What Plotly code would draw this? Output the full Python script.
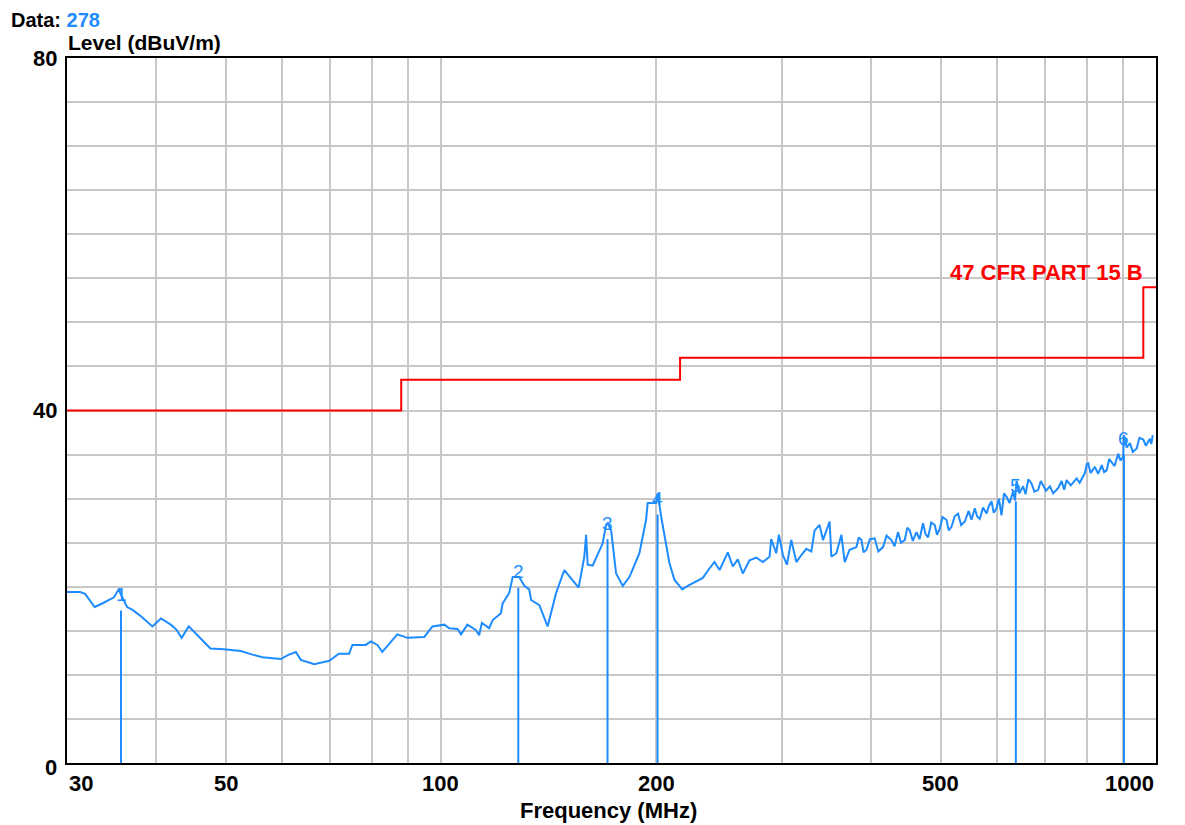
import math
import plotly.graph_objects as go

# ---------------- data ----------------
freq_mhz = [30.0, 31.3, 31.8, 32.8, 33.6, 34.9, 35.5, 35.6, 36.4, 37.0, 38.0, 39.5, 40.6, 41.9, 42.6,
            43.4, 44.4, 45.4, 46.4, 47.6, 49.7, 52.5, 54.5, 56.3, 59.7, 61.3, 62.7, 63.7, 66.5, 69.8,
            72.0, 74.4, 75.2, 78.5, 79.8, 81.5, 82.8, 85.1, 86.9, 89.8, 94.8, 97.3, 101.1, 102.7, 105.5,
            106.7, 108.9, 111.9, 113.1, 114.1, 116.8, 118.1, 121.3, 122.0, 124.6, 126.0, 128.7, 130.8,
            132.9, 133.7, 137.3, 141.0, 144.9, 148.8, 152.1, 155.8, 158.7, 159.6, 160.4, 163.0, 168.3,
            170.2, 171.1, 173.0, 175.8, 179.6, 183.5, 189.5, 193.6, 194.6, 200.0, 201.0, 203.2, 205.4,
            208.7, 212.1, 215.6, 217.5, 221.4, 227.5, 232.4, 237.5, 241.3, 245.3, 251.9, 256.0, 260.1,
            264.4, 270.1, 276.1, 282.0, 288.1, 289.7, 294.4, 296.9, 300.8, 304.7, 309.0, 314.1, 319.2,
            324.3, 329.6, 333.1, 338.5, 342.2, 349.6, 351.6, 357.3, 363.1, 367.0, 372.9,
            381.1, 384.0, 387.3, 390.0, 393.6, 398.0, 404.2, 409.0, 415.2, 420.0, 426.6, 431.0, 435.7,
            440.0, 445.3, 449.0, 452.5, 457.0, 462.4, 467.0, 472.3, 476.0, 480.0, 485.0, 490.5, 494.0,
            498.4, 503.0, 509.3, 513.0, 517.6, 523.0, 528.7, 534.0, 540.3, 547.0, 552.0, 558.0, 562.0,
            567.0, 573.0, 579.4, 584.0, 588.8, 593.0, 598.4, 603.0, 608.1, 613.0, 618.0, 624.0, 631.3,
            635.0, 638.3, 644.0, 651.9, 657.0, 663.0, 669.9, 676.0, 684.3, 690.0, 695.4, 702.0, 710.6,
            718.0, 729.8, 738.0, 744.0, 749.9, 760.0, 774.5, 782.0, 795.4, 800.0, 803.9, 810.0, 821.5,
            830.0, 839.5, 846.0, 853.1, 860.0, 866.0, 875.0, 885.5, 892.0, 899.9, 902.0, 910.0, 919.6,
            928.0, 939.7, 948.0, 959.9, 968.0, 980.5, 985.0, 989.5]
level_dbuv = [19.4, 19.4, 19.2, 17.7, 18.1, 18.8, 19.8, 19.3, 17.7, 17.4, 16.7, 15.5, 16.4, 15.7, 15.2,
              14.2, 15.5, 14.7, 14.0, 13.0, 12.9, 12.7, 12.3, 12.0, 11.8, 12.3, 12.6, 11.7, 11.2, 11.6,
              12.4, 12.4, 13.4, 13.4, 13.8, 13.4, 12.6, 13.8, 14.6, 14.2, 14.3, 15.5, 15.7, 15.3, 15.2,
              14.6, 15.7, 15.1, 14.5, 15.9, 15.3, 16.2, 17.0, 18.1, 19.3, 21.1, 21.1, 20.1,
              19.7, 18.5, 17.9, 15.5, 19.3, 21.9, 20.9, 19.9, 23.4, 25.9, 22.5, 22.4, 24.9,
              27.0, 27.2, 26.4, 21.5, 20.1, 21.1, 23.8, 27.6, 29.5, 29.5, 30.6, 28.0, 25.9,
              22.7, 20.8, 20.1, 19.7, 20.1, 20.6, 21.0, 22.1, 22.8, 21.9, 23.9, 22.3, 23.1,
              21.5, 23.0, 23.3, 22.8, 23.4, 25.4, 23.8, 25.9, 23.6, 22.5, 25.3, 22.8, 23.6,
              24.3, 24.0, 26.4, 27.0, 25.3, 27.4, 23.4, 23.8, 25.9, 22.8, 24.2,
              24.5, 25.6, 25.3, 23.9, 24.2, 25.4, 25.5, 24.0, 24.5, 25.8, 25.3, 24.6, 26.2,
              25.0, 25.3, 26.7, 26.4, 25.2, 26.2, 25.4, 27.2, 26.0, 25.6, 27.3, 27.0, 25.9,
              26.6, 27.9, 27.6, 26.4, 26.8, 28.0, 28.3, 27.0, 27.4, 28.6, 27.6, 28.9, 28.0,
              27.7, 29.0, 28.3, 29.2, 29.7, 28.4, 28.9, 30.0, 28.1, 30.6, 30.2, 29.5, 30.8,
              29.8, 32.0, 30.6, 31.4, 30.5, 32.2, 31.7, 30.8, 31.0, 32.0, 31.5, 30.9, 31.4,
              30.6, 31.2, 32.0, 31.0, 32.1, 31.5, 32.3, 31.8, 32.9, 33.9, 34.0, 32.9, 33.6,
              32.8, 33.8, 33.0, 33.2, 34.5, 34.2, 33.7, 35.1, 34.3, 34.8, 37.2, 35.8, 36.3,
              35.3, 35.7, 36.9, 36.7, 36.0, 36.8, 36.2, 37.2]

limit_freq = [30, 88, 88, 216, 216, 960, 960, 1000]
limit_level = [40.0, 40.0, 43.5, 43.5, 46.0, 46.0, 54.0, 54.0]

marker_ids = ["1", "2", "3", "4", "5", "6"]
marker_freq = [35.7, 128.3, 171.0, 200.9, 636.8, 902.0]
marker_level = [19.1, 21.7, 27.2, 30.0, 31.5, 36.8]

x_tick_vals = [30, 50, 100, 200, 500, 1000]
x_tick_text = ["30", "50", "100", "200", "500", "1000"]
x_grid_vals = [40, 50, 60, 70, 80, 90, 100, 200, 300, 400, 500, 600, 700, 800, 900]
y_tick_vals = [80, 40, 0]
y_tick_text = ["80", "40", "0"]

data_count = "278"
limit_name = "47 CFR PART 15 B"

# ---------------- style ----------------
BLUE = "#1E8CFF"
RED = "#FF0000"
FONT = "Liberation Sans"
FS = 22

fig = go.Figure()

fig.add_trace(go.Scatter(x=limit_freq, y=limit_level, mode="lines",
                         line=dict(color=RED, width=2), hoverinfo="skip"))
fig.add_trace(go.Scatter(x=freq_mhz, y=level_dbuv, mode="lines",
                         line=dict(color=BLUE, width=2), hoverinfo="skip"))

mx, my = [], []
for f, lv in zip(marker_freq, marker_level):
    mx += [f, f, None]
    my += [0, lv - 1.8, None]
fig.add_trace(go.Scatter(x=mx, y=my, mode="lines",
                         line=dict(color=BLUE, width=2), hoverinfo="skip"))

ann = []
for mid, f, lv in zip(marker_ids, marker_freq, marker_level):
    ann.append(dict(x=math.log10(f), y=lv, xref="x", yref="y", text=mid, showarrow=False,
                    font=dict(family=FONT, size=19, color=BLUE), xanchor="center", yanchor="middle"))

for v, t in zip(x_tick_vals, x_tick_text):
    anchor = "left" if v == x_tick_vals[0] else ("right" if v == x_tick_vals[-1] else "center")
    ann.append(dict(x=math.log10(v), y=0, xref="x", yref="paper", text="<b>%s</b>" % t,
                    showarrow=False, font=dict(family=FONT, size=FS, color="black"),
                    xanchor=anchor, yanchor="top", yshift=-6))
for v, t in zip(y_tick_vals, y_tick_text):
    ann.append(dict(x=0, y=v, xref="paper", yref="y", text="<b>%s</b>" % t, showarrow=False,
                    font=dict(family=FONT, size=FS, color="black"),
                    xanchor="right", yanchor="middle", xshift=-8, yshift=(-4 if v == 0 else 0)))

ann.append(dict(x=-0.0523, y=1.0709, xref="paper", yref="paper",
                text="<b>Data: <span style='color:%s'>%s</span></b>" % (BLUE, data_count),
                showarrow=False, font=dict(family=FONT, size=20, color="black"),
                xanchor="left", yanchor="top", borderpad=0))
ann.append(dict(x=0, y=1.0213, xref="paper", yref="paper", text="<b>Level (dBuV/m)</b>",
                showarrow=False, font=dict(family=FONT, size=21, color="black"),
                xanchor="left", yanchor="middle", borderpad=0))
ann.append(dict(x=0.4968, y=-0.068, xref="paper", yref="paper", text="<b>Frequency (MHz)</b>",
                showarrow=False, font=dict(family=FONT, size=FS, color="black"),
                xanchor="center", yanchor="middle"))
ann.append(dict(x=0.9899, y=55.7, xref="paper", yref="y", text="<b>%s</b>" % limit_name,
                showarrow=False, font=dict(family=FONT, size=FS, color=RED),
                xanchor="right", yanchor="middle"))

# the page places the figure 8px in from the top-left corner
fig.update_layout(
    width=1177, height=817,
    margin=dict(l=59, r=29, t=50, b=62, pad=0),
    paper_bgcolor="white", plot_bgcolor="white",
    showlegend=False,
    annotations=ann,
    xaxis=dict(type="log", range=[math.log10(30), math.log10(1000)],
               tickvals=x_grid_vals, showticklabels=False, ticks="",
               showgrid=True, gridcolor="#C8C8C8", gridwidth=2,
               showline=True, linecolor="black", linewidth=2, mirror=True, zeroline=False),
    yaxis=dict(range=[0, 80], dtick=5, tick0=0, showticklabels=False, ticks="",
               showgrid=True, gridcolor="#C8C8C8", gridwidth=2,
               showline=True, linecolor="black", linewidth=2, mirror=True, zeroline=False),
)

fig.write_html("out.html")
